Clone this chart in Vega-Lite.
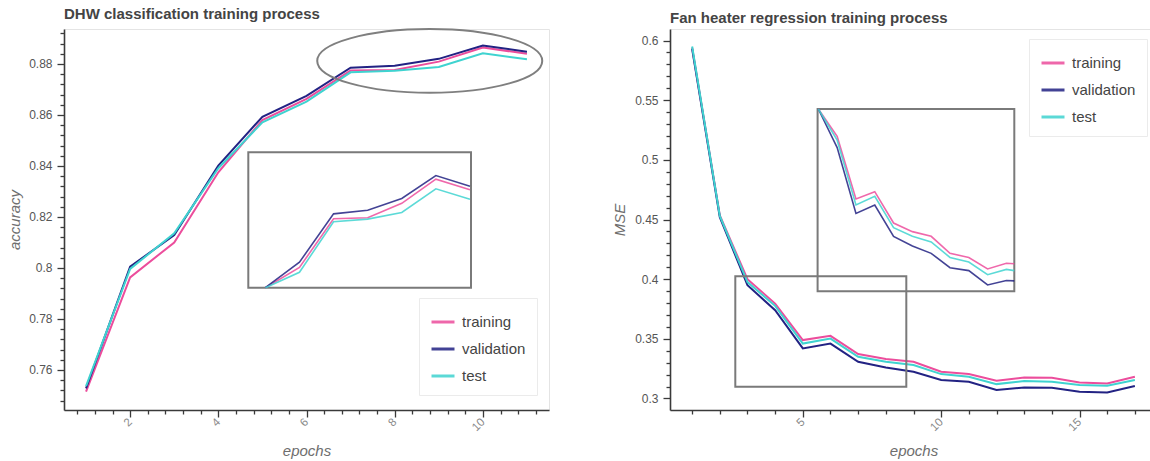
{
  "$schema": "https://vega.github.io/schema/vega-lite/v6.json",
  "padding": {"left": 7, "top": 6, "right": 0, "bottom": 0},
  "background": "white",
  "datasets": {
    "dhw": [
      {"epoch": 1, "set": "training", "accuracy": 0.7515}, {"epoch": 2, "set": "training", "accuracy": 0.7963}, {"epoch": 3, "set": "training", "accuracy": 0.81}, {"epoch": 4, "set": "training", "accuracy": 0.8375}, {"epoch": 5, "set": "training", "accuracy": 0.858}, {"epoch": 6, "set": "training", "accuracy": 0.8663}, {"epoch": 7, "set": "training", "accuracy": 0.8774}, {"epoch": 8, "set": "training", "accuracy": 0.8776}, {"epoch": 9, "set": "training", "accuracy": 0.8809}, {"epoch": 10, "set": "training", "accuracy": 0.8864}, {"epoch": 11, "set": "training", "accuracy": 0.884},
      {"epoch": 1, "set": "validation", "accuracy": 0.7528}, {"epoch": 2, "set": "validation", "accuracy": 0.8005}, {"epoch": 3, "set": "validation", "accuracy": 0.8129}, {"epoch": 4, "set": "validation", "accuracy": 0.8401}, {"epoch": 5, "set": "validation", "accuracy": 0.8593}, {"epoch": 6, "set": "validation", "accuracy": 0.8675}, {"epoch": 7, "set": "validation", "accuracy": 0.8785}, {"epoch": 8, "set": "validation", "accuracy": 0.8793}, {"epoch": 9, "set": "validation", "accuracy": 0.882}, {"epoch": 10, "set": "validation", "accuracy": 0.8872}, {"epoch": 11, "set": "validation", "accuracy": 0.8848},
      {"epoch": 1, "set": "test", "accuracy": 0.7537}, {"epoch": 2, "set": "test", "accuracy": 0.7996}, {"epoch": 3, "set": "test", "accuracy": 0.8136}, {"epoch": 4, "set": "test", "accuracy": 0.8391}, {"epoch": 5, "set": "test", "accuracy": 0.8571}, {"epoch": 6, "set": "test", "accuracy": 0.8652}, {"epoch": 7, "set": "test", "accuracy": 0.8767}, {"epoch": 8, "set": "test", "accuracy": 0.8773}, {"epoch": 9, "set": "test", "accuracy": 0.8788}, {"epoch": 10, "set": "test", "accuracy": 0.8842}, {"epoch": 11, "set": "test", "accuracy": 0.8818}
    ],
    "fan": [
      {"epoch": 1, "set": "training", "mse": 0.594}, {"epoch": 2, "set": "training", "mse": 0.4535}, {"epoch": 3, "set": "training", "mse": 0.3999}, {"epoch": 4, "set": "training", "mse": 0.3795}, {"epoch": 5, "set": "training", "mse": 0.3489}, {"epoch": 6, "set": "training", "mse": 0.3525}, {"epoch": 7, "set": "training", "mse": 0.3372}, {"epoch": 8, "set": "training", "mse": 0.333}, {"epoch": 9, "set": "training", "mse": 0.3307}, {"epoch": 10, "set": "training", "mse": 0.3224}, {"epoch": 11, "set": "training", "mse": 0.3204}, {"epoch": 12, "set": "training", "mse": 0.3148}, {"epoch": 13, "set": "training", "mse": 0.3176}, {"epoch": 14, "set": "training", "mse": 0.3173}, {"epoch": 15, "set": "training", "mse": 0.3134}, {"epoch": 16, "set": "training", "mse": 0.3126}, {"epoch": 17, "set": "training", "mse": 0.3182},
      {"epoch": 1, "set": "validation", "mse": 0.593}, {"epoch": 2, "set": "validation", "mse": 0.452}, {"epoch": 3, "set": "validation", "mse": 0.3949}, {"epoch": 4, "set": "validation", "mse": 0.374}, {"epoch": 5, "set": "validation", "mse": 0.3419}, {"epoch": 6, "set": "validation", "mse": 0.346}, {"epoch": 7, "set": "validation", "mse": 0.3307}, {"epoch": 8, "set": "validation", "mse": 0.326}, {"epoch": 9, "set": "validation", "mse": 0.3224}, {"epoch": 10, "set": "validation", "mse": 0.3154}, {"epoch": 11, "set": "validation", "mse": 0.314}, {"epoch": 12, "set": "validation", "mse": 0.307}, {"epoch": 13, "set": "validation", "mse": 0.3092}, {"epoch": 14, "set": "validation", "mse": 0.309}, {"epoch": 15, "set": "validation", "mse": 0.3056}, {"epoch": 16, "set": "validation", "mse": 0.305}, {"epoch": 17, "set": "validation", "mse": 0.3104},
      {"epoch": 1, "set": "test", "mse": 0.595}, {"epoch": 2, "set": "test", "mse": 0.453}, {"epoch": 3, "set": "test", "mse": 0.3975}, {"epoch": 4, "set": "test", "mse": 0.3776}, {"epoch": 5, "set": "test", "mse": 0.346}, {"epoch": 6, "set": "test", "mse": 0.3502}, {"epoch": 7, "set": "test", "mse": 0.3349}, {"epoch": 8, "set": "test", "mse": 0.3307}, {"epoch": 9, "set": "test", "mse": 0.328}, {"epoch": 10, "set": "test", "mse": 0.3204}, {"epoch": 11, "set": "test", "mse": 0.3182}, {"epoch": 12, "set": "test", "mse": 0.312}, {"epoch": 13, "set": "test", "mse": 0.3146}, {"epoch": 14, "set": "test", "mse": 0.314}, {"epoch": 15, "set": "test", "mse": 0.3112}, {"epoch": 16, "set": "test", "mse": 0.3106}, {"epoch": 17, "set": "test", "mse": 0.3154}
    ]
  },
  "spacing": 62,
  "resolve": {"scale": {"color": "independent", "x": "independent", "y": "independent"}, "legend": {"color": "independent"}},
  "hconcat": [
    {
      "width": 485,
      "height": 381,
      "title": {"text": "DHW classification training process", "frame": "group", "anchor": "start", "offset": 3},
      "data": {"name": "dhw"},
      "layer": [
        {
          "layer": [
            {
              "data": {"values": [{}]},
              "mark": {"type": "rect", "fill": "white", "stroke": "#7a7a7a", "strokeWidth": 2},
              "encoding": {
                "x": {"datum": 4.5, "type": "quantitative", "scale": {"domain": [4.5, 11.03], "range": [184.3, 407], "clamp": true, "nice": false, "zero": false}, "axis": null},
                "x2": {"datum": 11.03},
                "y": {"datum": 0.8617, "type": "quantitative", "scale": {"domain": [0.8617, 0.8925], "range": [258.7, 123.3], "clamp": true, "nice": false, "zero": false}, "axis": null},
                "y2": {"datum": 0.8925}
              }
            },
            {
              "transform": [{"filter": "datum.epoch >= 5"}],
              "mark": {"type": "line", "strokeWidth": 1.6, "opacity": 0.85},
              "encoding": {
                "x": {"field": "epoch", "type": "quantitative", "scale": {"domain": [4.5, 11.03], "range": [184.3, 407], "clamp": true, "nice": false, "zero": false}, "axis": null},
                "y": {"field": "accuracy", "type": "quantitative", "scale": {"domain": [0.8617, 0.8925], "range": [258.7, 123.3], "clamp": true, "nice": false, "zero": false}, "axis": null},
                "color": {"field": "set", "type": "nominal", "scale": {"domain": ["training", "validation", "test"], "range": ["#ec4d9c", "#222283", "#3fd3d0"]}, "legend": {"orient": "none", "legendX": 355, "legendY": 269}}
              }
            }
          ]
        },
        {
          "layer": [
            {
              "mark": {"type": "line", "strokeWidth": 2},
              "encoding": {
                "x": {"field": "epoch", "type": "quantitative", "title": "epochs",
                  "scale": {"domain": [0.5, 11.5], "nice": false, "zero": false},
                  "axis": {"orient": "bottom", "values": [2, 4, 6, 8, 10], "format": "d", "tickSize": 7,
                    "labelAngle": -45, "labelAlign": "right", "labelBaseline": "middle", "labelPadding": 3, "labelColor": "#8a8a8a", "labelFontSize": 11.5, "titlePadding": 11}},
                "y": {"field": "accuracy", "type": "quantitative", "title": "accuracy",
                  "scale": {"domain": [0.7443, 0.8937], "nice": false, "zero": false},
                  "axis": {"orient": "left", "values": [0.76, 0.78, 0.8, 0.82, 0.84, 0.86, 0.88], "format": ".2~f", "tickSize": 7, "labelPadding": 5, "titlePadding": 6}},
                "color": {"field": "set", "type": "nominal", "scale": {"domain": ["training", "validation", "test"], "range": ["#ec4d9c", "#222283", "#3fd3d0"]}, "legend": {"orient": "none", "legendX": 355, "legendY": 269}}
              }
            },
            {
              "data": {"values": [{}]},
              "mark": {"type": "point", "shape": "M-1,0C-1,-0.1563,-0.5523,-0.283,0,-0.283C0.5523,-0.283,1,-0.1563,1,0C1,0.1563,0.5523,0.283,0,0.283C-0.5523,0.283,-1,0.1563,-1,0Z", "size": 50625, "filled": false, "color": "#7f7f7f", "strokeWidth": 2, "opacity": 1},
              "encoding": {
                "x": {"datum": 8.795, "type": "quantitative",
                  "axis": {"orient": "bottom", "title": null, "labels": false, "grid": false, "domain": false, "tickSize": 4,
                    "values": [0.8, 1.2, 1.6, 2.4, 2.8, 3.2, 3.6, 4.4, 4.8, 5.2, 5.6, 6.4, 6.8, 7.2, 7.6, 8.4, 8.8, 9.2, 9.6, 10.4, 10.8, 11.2]}},
                "y": {"datum": 0.8812, "type": "quantitative",
                  "axis": {"orient": "left", "title": null, "labels": false, "grid": false, "domain": false, "tickSize": 4,
                    "values": [0.748, 0.752, 0.756, 0.764, 0.768, 0.772, 0.776, 0.784, 0.788, 0.792, 0.796, 0.804, 0.808, 0.812, 0.816, 0.824, 0.828, 0.832, 0.836, 0.844, 0.848, 0.852, 0.856, 0.864, 0.868, 0.872, 0.876, 0.884, 0.888, 0.892]}}
              }
            }
          ],
          "resolve": {"axis": {"x": "independent", "y": "independent"}}
        }
      ],
      "resolve": {"scale": {"x": "independent", "y": "independent"}}
    },
    {
      "width": 487,
      "height": 381,
      "title": {"text": "Fan heater regression training process", "frame": "group", "anchor": "start", "offset": 3},
      "data": {"name": "fan"},
      "layer": [
        {
          "layer": [
            {
              "data": {"values": [{}]},
              "mark": {"type": "rect", "fill": "white", "stroke": "#7a7a7a", "strokeWidth": 2},
              "encoding": {
                "x": {"datum": 2.96, "type": "quantitative", "scale": {"domain": [2.96, 13.42], "range": [147.6, 344.3], "clamp": true, "nice": false, "zero": false}, "axis": null},
                "x2": {"datum": 13.42},
                "y": {"datum": 0.3039, "type": "quantitative", "scale": {"domain": [0.3039, 0.3928], "range": [262.3, 80], "clamp": true, "nice": false, "zero": false}, "axis": null},
                "y2": {"datum": 0.3928}
              }
            },
            {
              "transform": [{"filter": "datum.epoch >= 3 && datum.epoch <= 14"}],
              "mark": {"type": "line", "strokeWidth": 1.6, "opacity": 0.85},
              "encoding": {
                "x": {"field": "epoch", "type": "quantitative", "scale": {"domain": [2.96, 13.42], "range": [147.6, 344.3], "clamp": true, "nice": false, "zero": false}, "axis": null},
                "y": {"field": "mse", "type": "quantitative", "scale": {"domain": [0.3039, 0.3928], "range": [262.3, 80], "clamp": true, "nice": false, "zero": false}, "axis": null},
                "color": {"field": "set", "type": "nominal", "scale": {"domain": ["training", "validation", "test"], "range": ["#ec4d9c", "#222283", "#3fd3d0"]}, "legend": {"orient": "top-right", "offset": 10}}
              }
            }
          ]
        },
        {
          "layer": [
            {
              "mark": {"type": "line", "strokeWidth": 2},
              "encoding": {
                "x": {"field": "epoch", "type": "quantitative", "title": "epochs",
                  "scale": {"domain": [0.2, 17.8], "nice": false, "zero": false},
                  "axis": {"orient": "bottom", "values": [5, 10, 15], "format": "d", "tickSize": 7,
                    "labelAngle": -45, "labelAlign": "right", "labelBaseline": "middle", "labelPadding": 3, "labelColor": "#8a8a8a", "labelFontSize": 11.5, "titlePadding": 11}},
                "y": {"field": "mse", "type": "quantitative", "title": "MSE",
                  "scale": {"domain": [0.2903, 0.6097], "nice": false, "zero": false},
                  "axis": {"orient": "left", "values": [0.3, 0.35, 0.4, 0.45, 0.5, 0.55, 0.6], "format": ".2~f", "tickSize": 7, "labelPadding": 5, "titlePadding": 7}},
                "color": {"field": "set", "type": "nominal", "scale": {"domain": ["training", "validation", "test"], "range": ["#ec4d9c", "#222283", "#3fd3d0"]}, "legend": {"orient": "top-right", "offset": 10}}
              }
            },
            {
              "data": {"values": [{}]},
              "mark": {"type": "rect", "fill": null, "fillOpacity": 0, "stroke": "#7a7a7a", "strokeWidth": 2},
              "encoding": {
                "x": {"datum": 2.56, "type": "quantitative",
                  "axis": {"orient": "bottom", "title": null, "labels": false, "grid": false, "domain": false, "tickSize": 4,
                    "values": [1, 2, 3, 4, 6, 7, 8, 9, 11, 12, 13, 14, 16, 17]}},
                "x2": {"datum": 8.74},
                "y": {"datum": 0.3098, "type": "quantitative",
                  "axis": {"orient": "left", "title": null, "labels": false, "grid": false, "domain": false, "tickSize": 4,
                    "values": [0.31, 0.32, 0.33, 0.34, 0.36, 0.37, 0.38, 0.39, 0.41, 0.42, 0.43, 0.44, 0.46, 0.47, 0.48, 0.49, 0.51, 0.52, 0.53, 0.54, 0.56, 0.57, 0.58, 0.59]}},
                "y2": {"datum": 0.4025}
              }
            }
          ],
          "resolve": {"axis": {"x": "independent", "y": "independent"}}
        }
      ],
      "resolve": {"scale": {"x": "independent", "y": "independent"}}
    }
  ],
  "config": {
    "view": {"stroke": "#e4e4e4"},
    "font": "Liberation Sans",
    "title": {"font": "Liberation Sans", "fontSize": 15, "fontWeight": "bold", "color": "#444444"},
    "axis": {
      "domainColor": "#3a3a3a", "domainWidth": 1.6,
      "tickColor": "#3a3a3a", "tickWidth": 1.3,
      "gridColor": "#e6e6e6", "gridWidth": 1,
      "labelFont": "Liberation Sans", "labelFontSize": 12, "labelColor": "#555555",
      "labelOverlap": false, "labelFlush": false, "labelBound": false,
      "titleFont": "Liberation Sans", "titleFontSize": 15, "titleFontStyle": "italic", "titleFontWeight": "normal", "titleColor": "#6e6e6e"
    },
    "legend": {
      "title": null,
      "fillColor": "white", "strokeColor": "#ebebeb", "padding": 11,
      "symbolType": "stroke", "symbolStrokeWidth": 3, "symbolSize": 529,
      "labelFont": "Liberation Sans", "labelFontSize": 15, "labelColor": "#444444",
      "labelOffset": 6, "rowPadding": 6
    }
  }
}
